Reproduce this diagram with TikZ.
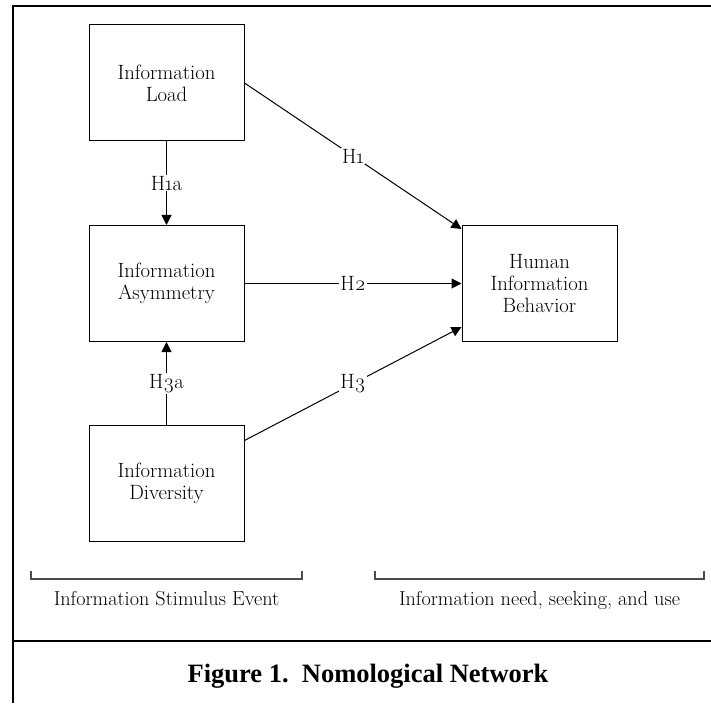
\documentclass[tikz,border=0pt]{standalone}
\usepackage{fontspec}
\setmainfont{Latin Modern Roman}[Numbers=OldStyle]
\newfontfamily\capfont{Liberation Serif}
\usetikzlibrary{arrows.meta}

\begin{document}
\begin{tikzpicture}[x=1pt, y=-1pt, line width=1pt,
	box/.style={draw, minimum width=155pt, minimum height=116pt, align=center, inner sep=0pt, font=\fontsize{20.7}{22}\selectfont},
	hyp/.style={fill=white, inner sep=1pt, font=\fontsize{20.7}{22}\selectfont},
	arr/.style={-{Triangle[length=10pt, width=10pt]}},
	brace/.style={draw=black!70, line width=1.5pt},
	grp/.style={anchor=base, font=\fontsize{20.2}{22}\selectfont}]
	\useasboundingbox (0,0) rectangle (711,703);
	% frame
	\draw[line width=2.5pt] (711,6) -- (13,6) -- (13,703);
	\draw[line width=2.5pt] (13,641) -- (711,641);
	% constructs
	\node[box] (load) at (166.5, 83) {Information\\Load};
	\node[box] (asym) at (166.5,283.5) {Information\\Asymmetry};
	\node[box] (div)  at (166.5,483) {Information\\Diversity};
	\node[box] (hib)  at (539.5,283.5) {Human\\Information\\Behavior};
	% hypotheses
	\draw[arr] (load) -- node[hyp]{H1a} (asym);
	\draw[arr] (div) -- node[hyp]{H3a} (asym);
	\draw[arr] (load.east) -- node[hyp]{H1} ([yshift=-4pt]hib.north west);
	\draw[arr] (asym) -- node[hyp]{H2} (hib);
	\draw[arr] ([yshift=-16pt]div.north east) -- node[hyp]{H3} ([yshift=15pt]hib.south west);
	% groups
	\draw[brace] (31,571) -- (31,579) -- (302,579) -- (302,571);
	\draw[brace] (375,571) -- (375,579) -- (704,579) -- (704,571);
	\node[grp] (stim) at (166.5,605) {Information Stimulus Event};
	\node[grp] (need) at (539.5,605) {Information need, seeking, and use};
	\node[anchor=base, font=\capfont\bfseries\fontsize{26.5}{30}\selectfont] (cap) at (368,682) {Figure 1.\ \ Nomological Network};
\end{tikzpicture}
\end{document}
